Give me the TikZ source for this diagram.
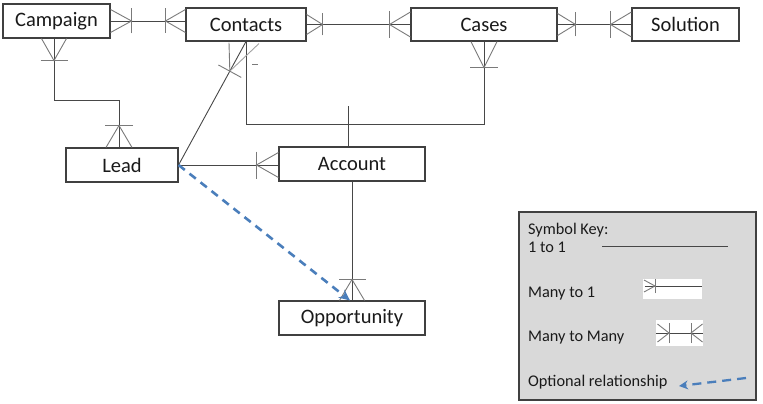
\documentclass[tikz,border=0pt]{standalone}
\usepackage{fontspec}
\setmainfont{Carlito}
\usetikzlibrary{calc,arrows.meta}
\definecolor{boxc}{HTML}{404040}
\definecolor{linec}{HTML}{474747}
\definecolor{crowc}{HTML}{7A7A7A}
\definecolor{keyfill}{HTML}{D9D9D9}
\definecolor{optblue}{HTML}{4A7EBB}
\definecolor{txt}{HTML}{1A1A1A}
\tikzset{
  ent/.style={draw=boxc, line width=1.1pt, fill=white, inner sep=0pt, text=txt,
    font=\fontsize{20.5}{24}\selectfont},
  rel/.style={draw=linec, line width=0.9pt},
  crowline/.style={draw=crowc, line width=0.9pt},
  keybox/.style={draw=boxc, line width=1.1pt, fill=keyfill, inner sep=0pt},
  keytext/.style={inner sep=0pt, text=txt, font=\fontsize{16.3}{19}\selectfont, anchor=base west},
  whitebox/.style={fill=white, draw=none, inner sep=0pt},
  optrel/.style={draw=optblue, line width=2.6pt, dash pattern=on 8pt off 6pt,
    -{Stealth[length=11pt,width=10pt]}},
}
\newcommand{\crowfoot}[4]{%
  \begin{scope}[shift={(#1)},rotate=#2]
    \draw[crowline] (0,#4) -- (#3,0) -- (0,-#4);
    \draw[crowline] (#3,#4+1) -- (#3,-#4-1);
  \end{scope}}
\begin{document}
\begin{tikzpicture}[x=1pt,y=-1pt]
\useasboundingbox (0,0) rectangle (763,404);

% entities
\node[ent, minimum width=107pt, minimum height=34pt] (campaign) at (56.5,21) {Campaign};
\node[ent, minimum width=120pt, minimum height=33pt] (contacts) at (246,24.5) {Contacts};
\node[ent, minimum width=146pt, minimum height=33pt] (cases) at (484,24.5) {Cases};
\node[ent, minimum width=107pt, minimum height=33pt] (solution) at (685.5,24.5) {Solution};
\node[ent, minimum width=112pt, minimum height=34pt] (lead) at (122,165) {Lead};
\node[ent, minimum width=146pt, minimum height=34pt] (account) at (352,164) {Account};
\node[ent, minimum width=146pt, minimum height=34pt] (opp) at (352,318) {Opportunity};

% Campaign -- Contacts (many to many)
\draw[rel] (campaign.east) -- (campaign.east -| contacts.west);
\crowfoot{campaign.east}{0}{21}{11.5}
\crowfoot{campaign.east -| contacts.west}{180}{20}{11.5}

% Contacts -- Cases
\draw[rel] (contacts.east) -- (cases.west);
\crowfoot{contacts.east}{0}{16}{10}
\crowfoot{cases.west}{180}{21}{12.5}

% Cases -- Solution
\draw[rel] (cases.east) -- (solution.west);
\crowfoot{cases.east}{0}{18}{11}
\crowfoot{solution.west}{180}{21}{12.5}

% Cases -- Contacts / Account bus
\draw[rel] (cases.south) -- ++(0,82.5) -| (contacts.south);
\coordinate (acctop) at ([xshift=-4pt]account.north);
\draw[rel] (acctop) -- ++(0,-40);
\crowfoot{cases.south}{-90}{26}{13}

% Contacts -- Lead (diagonal)
\draw[rel] (contacts.south) -- (lead.east);
\coordinate (cf) at ($(contacts.south)!0.24!(lead.east)$);
\draw[crowline] ($(contacts.south)+(-17,1)$) -- (cf);
\draw[crowline, crowc!70] ($(contacts.south)+(13,2)$) -- (cf);
\draw[crowline] ($(cf)!13pt!90:(lead.east)$) -- ($(cf)!13pt!-90:(lead.east)$);
\draw[crowline] ($(contacts.south)+(6,23)$) -- ++(6,0);

% Campaign -- Lead
\coordinate (cs) at ([xshift=-2.5pt]campaign.south);
\coordinate (ln) at ([xshift=-3pt]lead.north);
\draw[rel] (cs) -- ++(0,62) -| (ln);
\crowfoot{cs}{-90}{22}{12.5}
\crowfoot{ln}{90}{22}{13}

% Lead -- Account
\draw[rel] (lead.east) -- (lead.east -| account.west);
\crowfoot{lead.east -| account.west}{180}{22}{12.5}

% Account -- Opportunity
\draw[rel] (account.south) -- (opp.north);
\crowfoot{opp.north}{90}{21}{12.5}

% Lead -> Opportunity optional
\coordinate (optend) at ([xshift=-2pt]opp.north);
\draw[optrel] (lead.east) -- (optend);

% Symbol key
\node[keybox, minimum width=237pt, minimum height=188pt] (key) at (637.5,306) {};
\node[keytext] (ksym) at (528,234) {Symbol Key:};
\node[keytext] (k11) at (528,252) {1 to 1};
\node[keytext] (km1) at (528,297) {Many to 1};
\node[keytext] (kmm) at (528,341) {Many to Many};
\node[keytext] (kopt) at (528,386) {Optional relationship};

\coordinate (l1a) at (602,246);
\coordinate (l1b) at (728,246);
\draw[rel] (l1a) -- (l1b);

\node[whitebox, minimum width=59pt, minimum height=20pt] (wm1) at (672.5,289) {};
\draw[rel] ([xshift=2pt]wm1.west |- 0,286) -- (wm1.east |- 0,286);
\crowfoot{644,286}{0}{11}{6}

\node[whitebox, minimum width=47pt, minimum height=26pt] (wmm) at (679.5,333) {};
\draw[rel] (wmm.west) -- (wmm.east);
\crowfoot{657.5,333}{0}{11.5}{9}
\crowfoot{702.5,333}{180}{11.5}{9}

\coordinate (oa) at (746,378);
\coordinate (ob) at (679,386);
\draw[optrel, line width=2.3pt, dash pattern=on 9pt off 6pt, -{Stealth[length=9pt,width=9pt]}] (oa) -- (ob);
\end{tikzpicture}
\end{document}
